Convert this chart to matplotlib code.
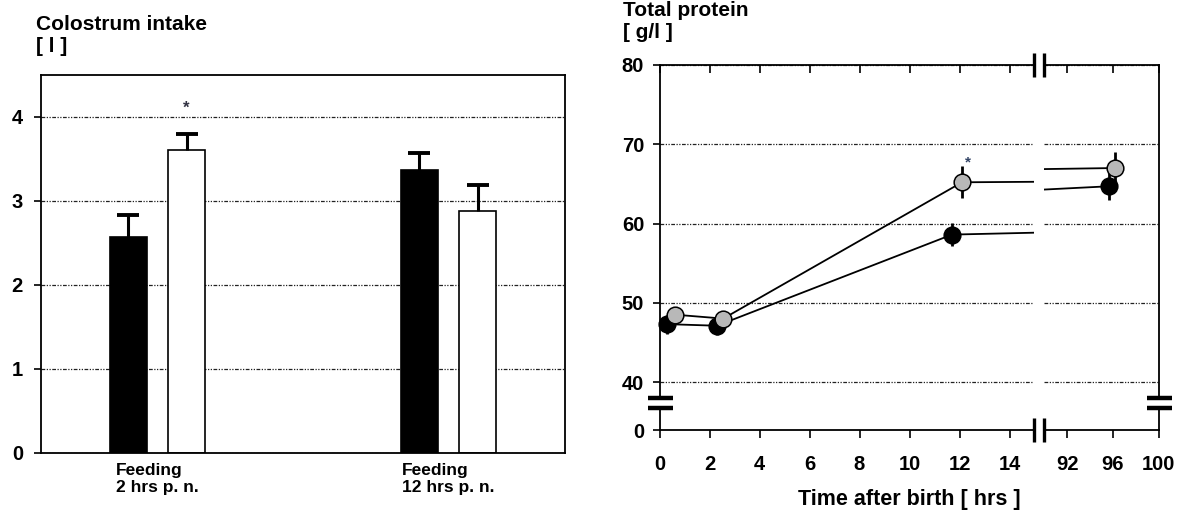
import matplotlib.pyplot as plt
import numpy as np

plt.rcParams['font.family'] = ['Liberation Sans', 'DejaVu Sans']
plt.rcParams['font.weight'] = 'bold'

# colostrum intake [l] at the two feeding times
groups = ['Feeding\n2 hrs p. n.', 'Feeding\n12 hrs p. n.']
black_intake = [2.57, 3.37]
black_intake_err = [0.26, 0.20]
white_intake = [3.61, 2.88]
white_intake_err = [0.19, 0.31]
intake_ticks = [0, 1, 2, 3, 4]

# total protein [g/l] over time after birth [hrs]
black_time = [0.3, 2.3, 11.7, 95.7]
black_protein = [47.3, 47.1, 58.6, 64.7]
black_protein_err = [1.2, 1.2, 1.5, 1.7]
gray_time = [0.6, 2.55, 12.1, 96.2]
gray_protein = [48.5, 48.0, 65.2, 67.0]
gray_protein_err = [0.6, 0.6, 2.0, 2.0]
time_ticks_early = [0, 2, 4, 6, 8, 10, 12, 14]
time_ticks_late = [92, 96, 100]
protein_ticks = [40, 50, 60, 70, 80]

W, H = 1183, 513
fig = plt.figure(figsize=(W / 100, H / 100), dpi=100)


def box(x0, y0, x1, y1):
    # pixel box (origin top left) -> figure fraction rect
    return [x0 / W, 1 - y1 / H, (x1 - x0) / W, (y1 - y0) / H]


grid_style = dict(color='#222222', lw=0.9, ls=(0, (3, 1.2, 1, 1.2, 1, 1.2)))

# ---- left: colostrum intake bars
ax = fig.add_axes(box(41, 75, 565, 453))
x = np.arange(1, len(groups) + 1)
ax.bar(x - 0.1, black_intake, 0.125, color='black', edgecolor='black', lw=1.2, zorder=2)
ax.bar(x + 0.1, white_intake, 0.125, color='white', edgecolor='black', lw=1.2, zorder=2)
for xpos, vals, errs in [(x - 0.1, black_intake, black_intake_err),
                         (x + 0.1, white_intake, white_intake_err)]:
    eb = ax.errorbar(xpos, vals, yerr=[[0, 0], errs], fmt='none', ecolor='black',
                     elinewidth=2.2, capsize=8, capthick=2.8, zorder=3)
    eb[1][0].remove()  # no cap on the lower (zero) side
ax.text(x[0] + 0.1, 4.1, '*', ha='center', va='center', fontsize=12, color='#333344')
ax.set_xlim(0.6, 2.4)
ax.set_ylim(0, 4.5)
ax.set_yticks(intake_ticks)
ax.set_xticks(x, groups)
for t in ax.get_xticklabels():
    t.set_multialignment('left')
ax.tick_params(axis='x', length=0, labelsize=12.5, pad=7)
ax.tick_params(axis='y', length=5, width=1.2, labelsize=14.5, pad=8)
ax.yaxis.grid(True, **grid_style)
ax.set_axisbelow(True)
for s in ax.spines.values():
    s.set_linewidth(1.3)

# ---- right: total protein with broken axes
xl0, xl1, xr0, xr1 = 659.5, 1034.3, 1043.9, 1158.5
yt0, yt1, yb0, yb1 = 65, 397.7, 408.3, 430
px_hr_early, px_hr_late, px_unit = 25.0, 11.4, 7.925

ax_tl = fig.add_axes(box(xl0, yt0, xl1, yt1))
ax_tr = fig.add_axes(box(xr0, yt0, xr1, yt1))
ax_bl = fig.add_axes(box(xl0, yb0, xl1, yb1))
ax_br = fig.add_axes(box(xr0, yb0, xr1, yb1))

early_lim = (0, (xl1 - xl0) / px_hr_early)
late_lim = (100 - (xr1 - xr0) / px_hr_late, 100)
top_lim = (80 - (yt1 - yt0) / px_unit, 80)
bottom_lim = (0, (yb1 - yb0) / px_unit)


def draw_series(a, t, y, err, face, lim):
    a.plot(t, y, color='black', lw=1.3, zorder=2)
    t, y, err = np.array(t), np.array(y), np.array(err)
    m = (t >= lim[0]) & (t <= lim[1])
    a.errorbar(t[m], y[m], yerr=err[m], fmt='o', ms=12, mfc=face, mec='black', mew=1.1,
               ecolor='black', elinewidth=2, capsize=0, clip_on=False, zorder=3)


for a, lim in [(ax_tl, early_lim), (ax_tr, late_lim)]:
    draw_series(a, black_time, black_protein, black_protein_err, 'black', lim)
    draw_series(a, gray_time, gray_protein, gray_protein_err, '#b8b8b8', lim)
    a.set_xlim(lim)
    a.set_ylim(top_lim)
    a.set_yticks(protein_ticks)
    a.yaxis.grid(True, **grid_style)
    a.spines['bottom'].set_visible(False)
    a.tick_params(axis='x', top=True, bottom=False, direction='in', length=6, width=1.2,
                  labeltop=False, labelbottom=False)
ax_tl.text(12.35, 67.7, '*', ha='center', va='center', fontsize=11, color='#334466')

ax_tl.set_xticks(time_ticks_early)
ax_tr.set_xticks(time_ticks_late)
ax_tl.spines['right'].set_visible(False)
ax_tr.spines['left'].set_visible(False)
ax_tl.tick_params(axis='y', length=5, width=1.2, labelsize=14.5, pad=6)
ax_tr.tick_params(axis='y', left=False, labelleft=False)

for a, lim, ticks in [(ax_bl, early_lim, time_ticks_early), (ax_br, late_lim, time_ticks_late)]:
    a.set_xlim(lim)
    a.set_ylim(bottom_lim)
    a.set_xticks(ticks)
    a.spines['top'].set_visible(False)
    a.tick_params(axis='x', direction='out', length=6, width=1.2, labelsize=14.5, pad=12)
ax_bl.set_yticks([0])
ax_bl.spines['right'].set_visible(False)
ax_bl.tick_params(axis='y', length=5, width=1.2, labelsize=14.5, pad=6)
ax_br.set_yticks([])
ax_br.spines['left'].set_visible(False)

for a in [ax_tl, ax_tr, ax_bl, ax_br]:
    for s in a.spines.values():
        s.set_linewidth(1.3)

# break marks
brk = dict(color='black', clip_on=False, zorder=5)
for a, px, py in [(ax_tl, 1, 1), (ax_tr, 0, 1), (ax_bl, 1, 0), (ax_br, 0, 0)]:
    a.plot([px], [py], marker='|', ms=17, mew=2.4, transform=a.transAxes, **brk)
for a, px, py in [(ax_tl, 0, 0), (ax_bl, 0, 1), (ax_tr, 1, 0), (ax_br, 1, 1)]:
    a.plot([px], [py], marker='_', ms=18, mew=3.2, transform=a.transAxes, **brk)

fig.text(909 / W, 1 - 500 / H, 'Time after birth [ hrs ]', ha='center', va='center', fontsize=15.5)

# panel titles
fig.text(36 / W, 1 - 15 / H, 'Colostrum intake\n[ l ]', ha='left', va='top', fontsize=15, linespacing=1.2)
fig.text(623 / W, 1 - 1 / H, 'Total protein\n[ g/l ]', ha='left', va='top', fontsize=15, linespacing=1.2)

fig.savefig('out.png', dpi=100)
